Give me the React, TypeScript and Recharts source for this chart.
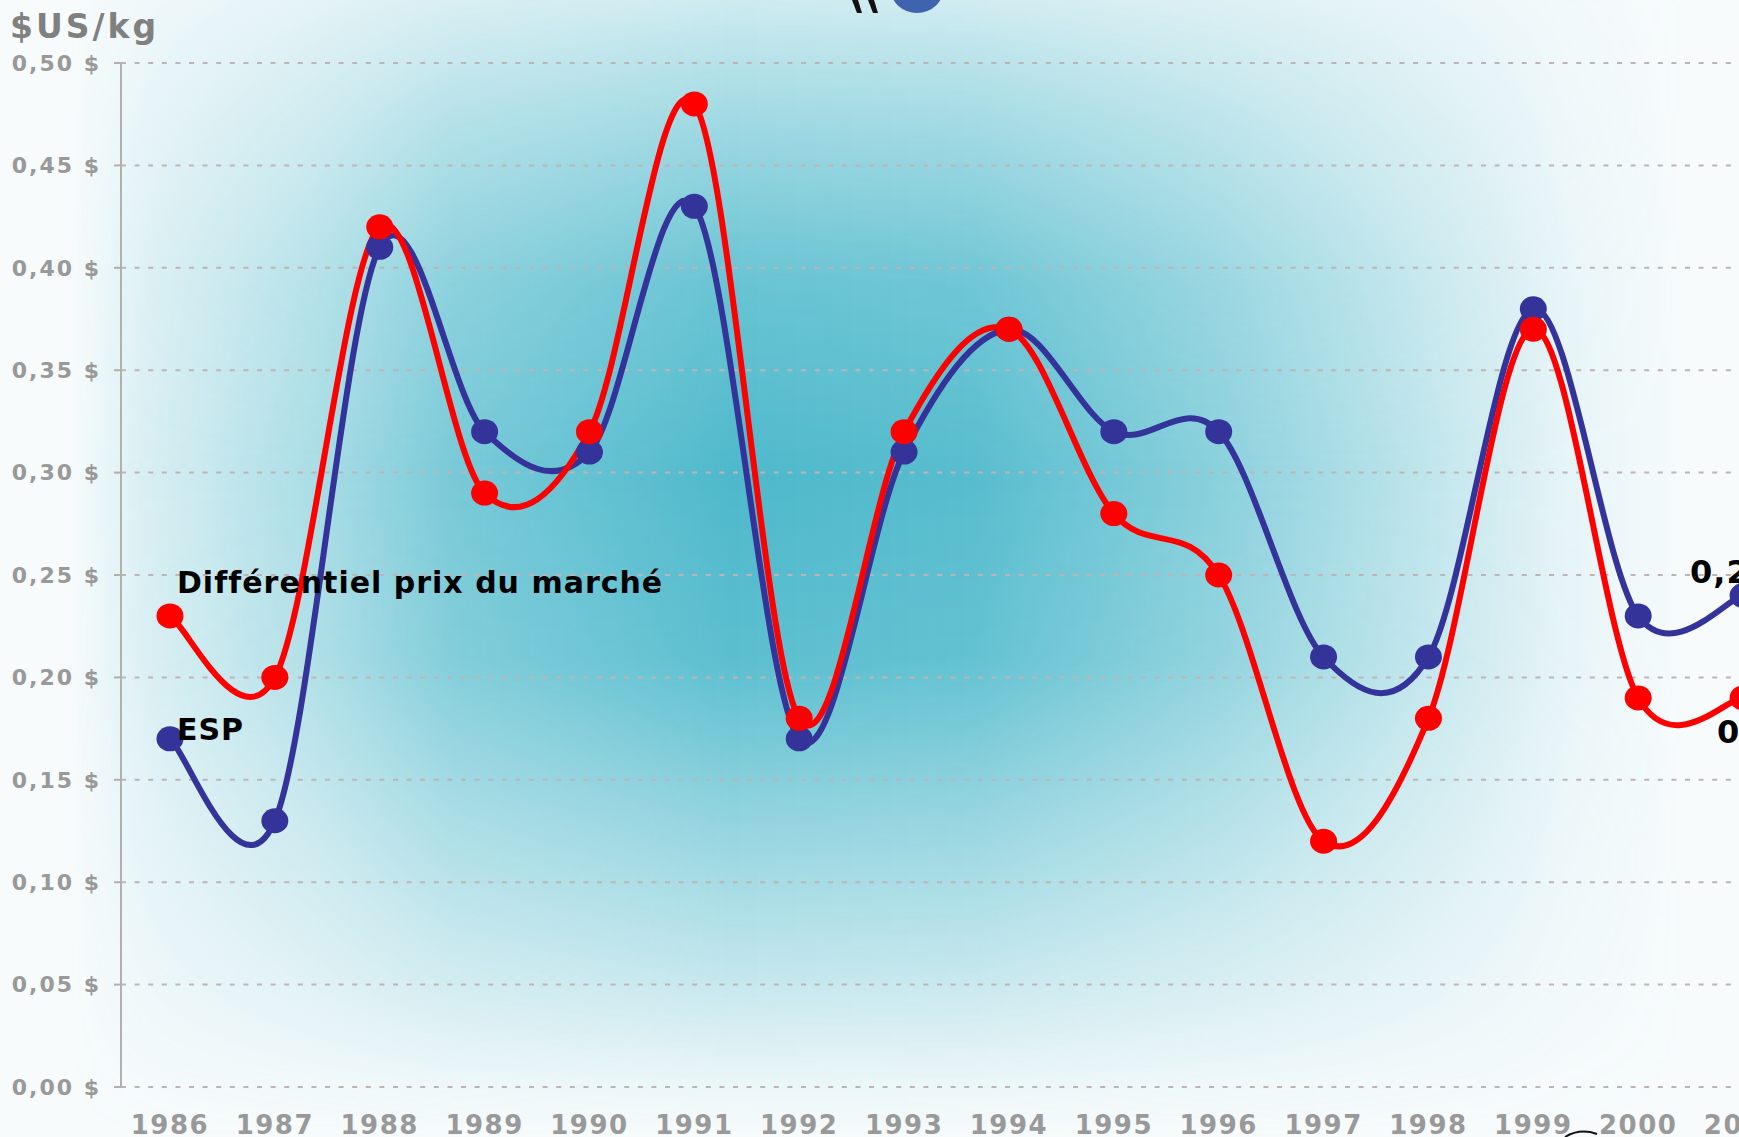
import React from 'react';
import { LineChart, Line, XAxis, YAxis, CartesianGrid } from 'recharts';

const years = [1986, 1987, 1988, 1989, 1990, 1991, 1992, 1993, 1994, 1995, 1996, 1997, 1998, 1999, 2000, 2001];
const esp = [0.17, 0.13, 0.41, 0.32, 0.31, 0.43, 0.17, 0.31, 0.37, 0.32, 0.32, 0.21, 0.21, 0.38, 0.23, 0.24];
const diff = [0.23, 0.20, 0.42, 0.29, 0.32, 0.48, 0.18, 0.32, 0.37, 0.28, 0.25, 0.12, 0.18, 0.37, 0.19, 0.19];
const yTicks = [0, 0.05, 0.1, 0.15, 0.2, 0.25, 0.3, 0.35, 0.4, 0.45, 0.5];
const espName = 'ESP';
const diffName = 'Différentiel prix du marché';
const yTitle = '$US/kg';

const data = years.map((y, i) => ({ year: y, esp: esp[i], diff: diff[i] }));

const FONT = '"DejaVu Sans", Verdana, sans-serif';

const fmt = (v: number) => v.toFixed(2).replace('.', ',') + ' $';

// Excel-like smoothed curve (Catmull-Rom converted to cubic Bezier)
function smoothCurve(context: any) {
  let pts: number[][] = [];
  return {
    areaStart() {},
    areaEnd() {},
    lineStart() {
      pts = [];
    },
    point(x: number, y: number) {
      pts.push([+x, +y]);
    },
    lineEnd() {
      if (!pts.length) return;
      context.moveTo(pts[0][0], pts[0][1]);
      for (let i = 0; i < pts.length - 1; i++) {
        const p0 = pts[i - 1] || pts[i];
        const p1 = pts[i];
        const p2 = pts[i + 1];
        const p3 = pts[i + 2] || pts[i + 1];
        const c1x = p1[0] + (p2[0] - p0[0]) / 6;
        const c1y = p1[1] + (p2[1] - p0[1]) / 6;
        const c2x = p2[0] - (p3[0] - p1[0]) / 6;
        const c2y = p2[1] - (p3[1] - p1[1]) / 6;
        context.bezierCurveTo(c1x, c1y, c2x, c2y, p2[0], p2[1]);
      }
    },
  };
}

const makeDot = (color: string, kind: 'esp' | 'diff') => (props: any) => {
  const { cx, cy, index, value } = props;
  const last = index === years.length - 1;
  const v = Array.isArray(value) ? value[1] : value;
  return (
    <g key={`${kind}-${index}`}>
      <ellipse cx={cx} cy={cy} rx={13.5} ry={12.5} fill={color} />
      {index === 0 && kind === 'diff' && (
        <text x={cx + 7} y={cy - 23} fontFamily={FONT} fontWeight="bold" fontSize={30} letterSpacing={1} fill="#000">
          {diffName}
        </text>
      )}
      {index === 0 && kind === 'esp' && (
        <text x={cx + 7} y={cy + 1} fontFamily={FONT} fontWeight="bold" fontSize={30} letterSpacing={1} fill="#000">
          {espName}
        </text>
      )}
      {last && kind === 'esp' && (
        <text x={cx - 53} y={cy - 12} fontFamily={FONT} fontWeight="bold" fontSize={32} letterSpacing={1} fill="#000">
          {fmt(v)}
        </text>
      )}
      {last && kind === 'diff' && (
        <text x={cx - 26} y={cy + 45} fontFamily={FONT} fontWeight="bold" fontSize={32} letterSpacing={1} fill="#000">
          {fmt(v)}
        </text>
      )}
    </g>
  );
};

const YearTick = (props: any) => {
  const { x, y, payload } = props;
  return (
    <text x={x} y={y + 47} textAnchor="middle" fontFamily={FONT} fontWeight="bold" fontSize={26} letterSpacing={1.5} fill="#999">
      {payload.value}
    </text>
  );
};

const TEAL = '78,185,203';

export default function App() {
  return (
    <div
      style={{
        position: 'fixed',
        left: 0,
        top: 0,
        width: 1739,
        height: 1137,
        overflow: 'hidden',
        background: '#f7fbfc',
      }}
    >
      <div
        style={{
          position: 'absolute',
          inset: 0,
          background: `linear-gradient(to right, rgba(${TEAL},0) 4%, rgba(${TEAL},0.2) 9%, rgba(${TEAL},0.45) 18%, rgba(${TEAL},0.75) 26%, rgba(${TEAL},1) 42%, rgba(${TEAL},0.95) 56%, rgba(${TEAL},0.65) 70%, rgba(${TEAL},0.3) 83%, rgba(${TEAL},0.1) 90%, rgba(${TEAL},0) 97%)`,
          WebkitMaskImage:
            'linear-gradient(to bottom, rgba(0,0,0,0.24) 0%, rgba(0,0,0,0.5) 10%, rgba(0,0,0,0.85) 25%, rgba(0,0,0,1) 42%, rgba(0,0,0,0.92) 58%, rgba(0,0,0,0.6) 72%, rgba(0,0,0,0.3) 86%, rgba(0,0,0,0.08) 95%, rgba(0,0,0,0) 100%)',
          maskImage:
            'linear-gradient(to bottom, rgba(0,0,0,0.24) 0%, rgba(0,0,0,0.5) 10%, rgba(0,0,0,0.85) 25%, rgba(0,0,0,1) 42%, rgba(0,0,0,0.92) 58%, rgba(0,0,0,0.6) 72%, rgba(0,0,0,0.3) 86%, rgba(0,0,0,0.08) 95%, rgba(0,0,0,0) 100%)',
        }}
      />
      <svg width={1739} height={1137} style={{ position: 'absolute', left: 0, top: 0 }}>
        <path d="M852 0 L858 0 L862 13 L857 13 Z" fill="#111" />
        <path d="M868 0 L874 0 L878 13 L873 13 Z" fill="#111" />
        <ellipse cx={917} cy={-13} rx={27} ry={26} fill="#4063b0" />
        <path d="M1565 1137 Q1580 1128 1597 1134" stroke="#111" strokeWidth={2} fill="none" />
        <text x={10} y={38} fontFamily={FONT} fontWeight="bold" fontSize={33} letterSpacing={3} fill="#808080">
          {yTitle}
        </text>
      </svg>
      <div style={{ position: 'absolute', left: 0, top: 0 }}>
        <LineChart width={1800} height={1137} data={data} margin={{ top: 63, right: 0, bottom: 0, left: 0 }}>
          <CartesianGrid vertical={false} stroke="#bdb5b5" strokeWidth={2} strokeDasharray="5 8.6" />
          <XAxis
            dataKey="year"
            type="number"
            domain={[1985.533, 2001.543]}
            allowDataOverflow
            ticks={years}
            interval={0}
            axisLine={false}
            tickLine={false}
            tickSize={0}
            tickMargin={0}
            height={50}
            tick={<YearTick />}
          />
          <YAxis
            width={121}
            domain={[0, 0.5]}
            ticks={yTicks}
            interval={0}
            tickFormatter={fmt}
            axisLine={{ stroke: '#b0b0b0', strokeWidth: 2 }}
            tickLine={{ stroke: '#b0b0b0', strokeWidth: 2 }}
            tickSize={7}
            tickMargin={13}
            tick={{ fill: '#999', fontFamily: FONT, fontWeight: 'bold', fontSize: 22, letterSpacing: 2 }}
          />
          <Line
            dataKey="esp"
            name={espName}
            type={smoothCurve as any}
            stroke="#333399"
            strokeWidth={6}
            dot={makeDot('#333399', 'esp')}
            activeDot={false}
            isAnimationActive={false}
          />
          <Line
            dataKey="diff"
            name={diffName}
            type={smoothCurve as any}
            stroke="#ff0000"
            strokeWidth={6}
            dot={makeDot('#ff0000', 'diff')}
            activeDot={false}
            isAnimationActive={false}
          />
        </LineChart>
      </div>
    </div>
  );
}
